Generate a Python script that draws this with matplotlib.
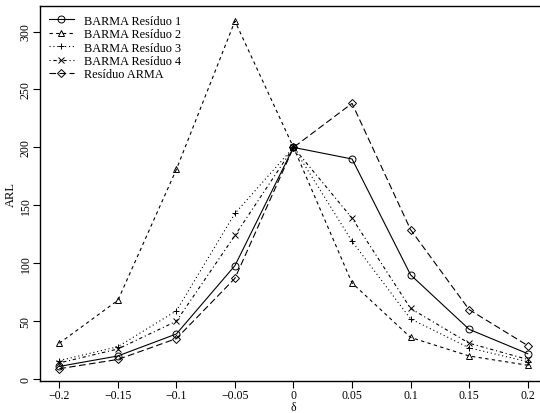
import matplotlib
matplotlib.use('Agg')
import matplotlib.pyplot as plt

plt.rcParams['font.family'] = ['Liberation Serif', 'DejaVu Serif']

delta = [-0.2, -0.15, -0.1, -0.05, 0, 0.05, 0.1, 0.15, 0.2]
barma1 = [11, 20, 39, 98, 200, 190, 90, 43, 22]
barma2 = [31, 68, 181, 309, 200, 83, 36, 20, 12]
barma3 = [16, 28, 59, 143, 200, 119, 52, 27, 15]
barma4 = [14, 26, 50, 124, 200, 139, 61, 31, 17]
arma = [9, 17, 35, 87, 200, 238, 129, 60, 29]

labels = ['BARMA Resíduo 1', 'BARMA Resíduo 2', 'BARMA Resíduo 3',
          'BARMA Resíduo 4', 'Resíduo ARMA']
xticks = [-0.2, -0.15, -0.1, -0.05, 0, 0.05, 0.1, 0.15, 0.2]
xticklabels = ['\u22120.2', '\u22120.15', '\u22120.1', '\u22120.05', '0',
               '0.05', '0.1', '0.15', '0.2']
yticks = [0, 50, 100, 150, 200, 250, 300]

fig = plt.figure(figsize=(5.4, 4.14), dpi=100)
ax = fig.add_axes([0.074, 0.077, 0.939, 0.906])

styles = [
    (barma1, 'o', '-'),
    (barma2, '^', (0, (3, 3))),
    (barma3, '+', (0, (1, 2.5))),
    (barma4, 'x', (0, (1, 2.5, 3, 2.5))),
    (arma, 'D', (0, (6, 3))),
]
for (vals, mk, ls), lab in zip(styles, labels):
    ms = 4.0 if mk == 'D' else 5.0
    ax.plot(delta, vals, linestyle=ls, color='black', linewidth=0.8,
            marker=mk, markersize=ms, markerfacecolor='none',
            markeredgecolor='black', markeredgewidth=0.7, label=lab)

ax.set_xlim(-0.2165, 0.2165)
ax.set_ylim(-1.7, 322)
ax.set_xticks(xticks)
ax.set_xticklabels(xticklabels)
ax.set_yticks(yticks)
ax.set_yticklabels([str(v) for v in yticks], rotation=90, va='center')
ax.tick_params(direction='out', length=5, width=0.8, labelsize=8.5, pad=1)
for s in ax.spines.values():
    s.set_linewidth(1.0)

ax.set_xlabel('δ', fontsize=8.5, labelpad=-0.5)
ax.set_ylabel('ARL', fontsize=9, labelpad=2)

ax.legend(loc='upper left', frameon=False, fontsize=8.8, handlelength=2.1,
          handletextpad=0.8, labelspacing=0.12, borderaxespad=0.3,
          borderpad=0.4)

fig.savefig('out.png', dpi=100)
